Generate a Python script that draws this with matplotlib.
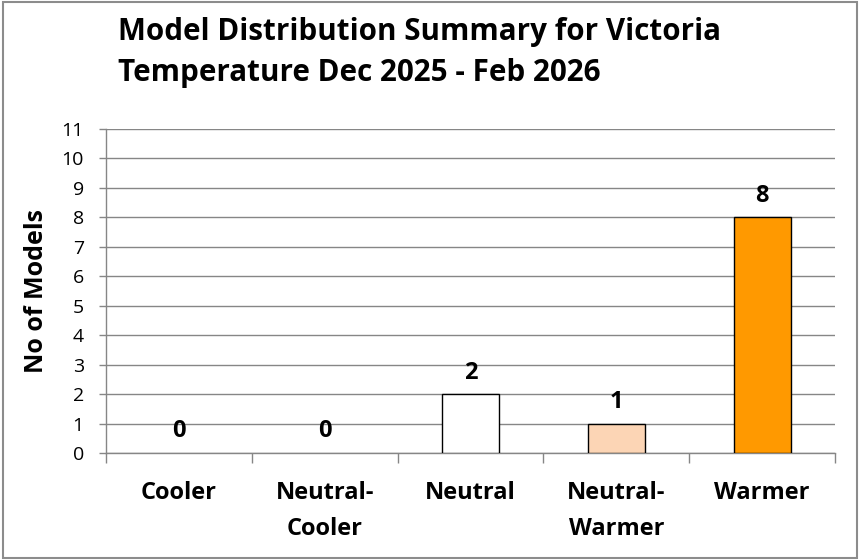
import matplotlib.pyplot as plt
from matplotlib.patches import Rectangle

# data
categories = ['Cooler', 'Neutral-\nCooler', 'Neutral', 'Neutral-\nWarmer', 'Warmer']
model_counts = [0, 0, 2, 1, 8]
bar_colors = ['white', 'white', 'white', '#FCD5B5', '#FF9900']
y_ticks = list(range(0, 12))

title = 'Model Distribution Summary for Victoria\nTemperature Dec 2025 - Feb 2026'
y_label = 'No of Models'

FONT = 'Open Sans'
GRID = '#868686'

fig = plt.figure(figsize=(8.61, 5.6), dpi=100)
ax = fig.add_axes([0.1231, 0.1911, 0.8467, 0.5785])

x = list(range(len(categories)))
# zero-height bars leave no visible outline in the original
edge_widths = [1.0 if v > 0 else 0 for v in model_counts]
ax.bar(x, model_counts, width=0.39, color=bar_colors, edgecolor='black',
       linewidth=edge_widths, zorder=3)

# value labels above bars
for xi, v in zip(x, model_counts):
    ax.annotate(str(v), (xi, v), xytext=(0, 15.5), textcoords='offset points',
                ha='center', va='center', fontsize=17, fontweight='bold',
                family=FONT)

ax.set_xlim(-0.5, len(categories) - 0.5)
ax.set_ylim(0, 11)
ax.set_yticks(y_ticks)
ax.set_yticklabels([str(t) for t in y_ticks], family=FONT, fontsize=14)
ax.yaxis.grid(True, color=GRID, linewidth=1.0, zorder=0)
ax.set_axisbelow(True)

# category boundaries as major ticks, names on minor ticks
ax.set_xticks([i - 0.5 for i in range(len(categories) + 1)])
ax.set_xticklabels([])
ax.set_xticks(x, minor=True)
ax.set_xticklabels(categories, minor=True, family=FONT, fontsize=17,
                   fontweight='bold', linespacing=1.7, va='top')
ax.tick_params(axis='x', which='major', length=7, color=GRID, width=1)
ax.tick_params(axis='x', which='minor', length=0, pad=20)
ax.tick_params(axis='y', length=5, color=GRID, width=1, pad=11)

for side in ['top', 'right']:
    ax.spines[side].set_visible(False)
for side in ['left', 'bottom']:
    ax.spines[side].set_color(GRID)
    ax.spines[side].set_linewidth(1.0)

ax.set_ylabel(y_label, family=FONT, fontsize=18, fontweight='bold', va='center')
ax.yaxis.set_label_coords(-0.0948, 0.5)

fig.text(0.137, 0.906, title, family=FONT, fontsize=21.3, fontweight='bold',
         ha='left', va='center', linespacing=1.48)

# outer chart border
fig.add_artist(Rectangle((0.003, 0.004), 0.992, 0.993, transform=fig.transFigure,
                         fill=False, edgecolor='#8c8c8c', linewidth=1.5))

fig.savefig('out.png', dpi=100)
